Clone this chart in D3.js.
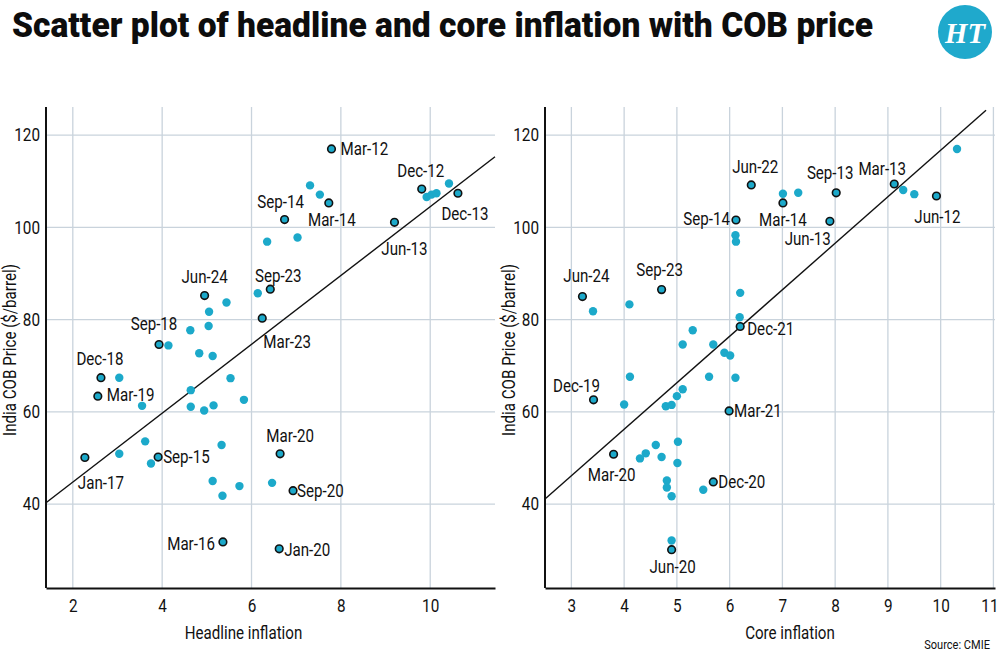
<!DOCTYPE html>
<html>
<head>
<meta charset="utf-8">
<script src="https://cdn.jsdelivr.net/npm/d3@7"></script>
<style>
  body { margin: 0; background: #fff; }
  svg text { font-family: Roboto, "Liberation Sans", sans-serif; }
</style>
</head>
<body>
<svg id="chart" width="1000" height="657"></svg>
<script>
// ---- data ----
// headline inflation vs COB price
var headlineX = [7.79, 9.81, 9.20, 10.62, 7.73, 6.74, 3.91, 5.36, 2.27, 3.93, 2.63, 2.56, 6.62, 6.64, 6.93, 6.24, 6.42, 4.95,
  5.44, 5.05, 5.04, 4.63, 4.14, 4.83, 5.13, 5.53, 3.04, 4.64, 3.55, 4.64, 4.94, 5.15, 5.83, 3.62, 5.33, 3.04, 3.75, 5.13,
  5.73, 5.35, 6.46, 7.31, 7.53, 6.35, 7.03, 6.14, 9.92, 10.03, 10.14, 10.42];
var headlineCob = [117.0, 108.3, 101.1, 107.4, 105.3, 101.7, 50.2, 31.8, 50.1, 74.6, 67.4, 63.4, 30.3, 50.9, 42.9, 80.3, 86.6, 85.2,
  83.7, 81.7, 78.6, 77.7, 74.4, 72.7, 72.1, 67.3, 67.4, 64.7, 61.3, 61.1, 60.3, 61.4, 62.6, 53.6, 52.8, 50.9, 48.8, 45.0,
  43.9, 41.8, 44.6, 109.1, 107.1, 96.9, 97.8, 85.7, 106.6, 107.1, 107.4, 109.5];
var headlineLabels = ['Mar-12', 'Dec-12', 'Jun-13', 'Dec-13', 'Mar-14', 'Sep-14', 'Sep-15', 'Mar-16', 'Jan-17', 'Sep-18',
  'Dec-18', 'Mar-19', 'Jan-20', 'Mar-20', 'Sep-20', 'Mar-23', 'Sep-23', 'Jun-24'];
var headlineTrend = [[1.4, 40.3], [11.45, 115.3]];

// core inflation vs COB price
var coreX = [9.92, 9.12, 7.90, 8.02, 7.01, 6.12, 3.42, 3.80, 4.90, 5.69, 5.99, 6.20, 6.41, 4.71, 3.21,
  3.41, 4.10, 5.30, 6.11, 6.12, 6.20, 6.19, 7.01, 7.30, 9.29, 9.50, 10.31, 5.11, 5.69, 5.90, 6.01, 4.11, 5.61,
  6.11, 4.00, 4.79, 4.90, 5.00, 5.11, 5.02, 4.60, 4.41, 4.30, 4.71, 5.01, 4.81, 4.81, 4.90, 5.50, 4.90];
var coreCob = [106.8, 109.4, 101.3, 107.5, 105.3, 101.6, 62.6, 50.8, 30.1, 44.8, 60.2, 78.5, 109.2, 86.5, 85.0,
  81.8, 83.3, 77.7, 98.3, 96.9, 85.8, 80.5, 107.3, 107.5, 108.1, 107.2, 117.0, 74.6, 74.6, 72.8, 72.2, 67.6, 67.6,
  67.4, 61.6, 61.2, 61.5, 63.4, 64.9, 53.5, 52.8, 51.0, 49.9, 50.2, 48.9, 45.1, 43.6, 41.7, 43.1, 32.1];
var coreLabels = ['Jun-12', 'Mar-13', 'Jun-13', 'Sep-13', 'Mar-14', 'Sep-14', 'Dec-19', 'Mar-20', 'Jun-20', 'Dec-20',
  'Mar-21', 'Dec-21', 'Jun-22', 'Sep-23', 'Jun-24'];
var coreTrend = [[2.5, 41.1], [10.86, 125.4]];

var yTicks = [40, 60, 80, 100, 120];
var headlineTicks = [2, 4, 6, 8, 10];
var coreTicks = [3, 4, 5, 6, 7, 8, 9, 10, 11];

// ---- label placement (dx, dy, anchor) ----
var headlinePlace = {
  'Mar-12': [9, 6, 'start'], 'Dec-12': [-1, -12, 'middle'], 'Jun-13': [10, 33, 'middle'], 'Dec-13': [7, 27, 'middle'],
  'Mar-14': [3, 23, 'middle'], 'Sep-14': [-4, -12, 'middle'], 'Sep-15': [5, 6, 'start'], 'Mar-16': [-8, 8, 'end'],
  'Jan-17': [-7, 32, 'start'], 'Sep-18': [-5, -15, 'middle'], 'Dec-18': [-1, -13, 'middle'], 'Mar-19': [9, 5, 'start'],
  'Jan-20': [5, 7, 'start'], 'Mar-20': [10, -12, 'middle'], 'Sep-20': [4, 6, 'start'], 'Mar-23': [1, 30, 'start'],
  'Sep-23': [8, -7, 'middle'], 'Jun-24': [0, -13, 'middle']
};
var corePlace = {
  'Jun-12': [1, 27, 'middle'], 'Mar-13': [-12, -9, 'middle'], 'Jun-13': [1, 24, 'end'], 'Sep-13': [-6, -14, 'middle'],
  'Mar-14': [0, 23, 'middle'], 'Sep-14': [-6, 5, 'end'], 'Dec-19': [-17, -8, 'middle'], 'Mar-20': [-2, 27, 'middle'],
  'Jun-20': [1, 23, 'middle'], 'Dec-20': [5, 6, 'start'], 'Mar-21': [5, 6, 'start'], 'Dec-21': [7, 8, 'start'],
  'Jun-22': [4, -12, 'middle'], 'Sep-23': [-2, -14, 'middle'], 'Jun-24': [4, -15, 'middle']
};

var svg = d3.select('#chart');
var cyan = '#1ca9ca';
var grid = '#c9d3dc';

// squeeze text horizontally to mimic the condensed face of the original
function condense(sel, k) {
  sel.each(function () {
    var w = this.getComputedTextLength();
    d3.select(this).attr('textLength', w * k).attr('lengthAdjust', 'spacingAndGlyphs');
  });
}

// title + logo
svg.append('text')
  .attr('x', 12).attr('y', 37)
  .attr('font-size', 35).attr('font-weight', 900)
  .attr('textLength', 861).attr('lengthAdjust', 'spacingAndGlyphs')
  .attr('fill', '#0d0d0d')
  .text('Scatter plot of headline and core inflation with COB price');

svg.append('circle').attr('cx', 965).attr('cy', 32).attr('r', 27).attr('fill', '#1fa9cc');
svg.append('text')
  .attr('x', 965).attr('y', 43)
  .attr('text-anchor', 'middle')
  .attr('font-size', 30).attr('font-style', 'italic').attr('font-weight', 'bold')
  .style('font-family', '"Liberation Serif", "DejaVu Serif", serif')
  .attr('fill', '#fff')
  .attr('textLength', 40).attr('lengthAdjust', 'spacingAndGlyphs')
  .text('HT');

var plotTop = 107, plotBottom = 588;

function panel(opt) {
  var x = d3.scaleLinear().domain(opt.xDomain).range(opt.xRange);
  var y = d3.scaleLinear().domain([21.8, 126.1]).range([plotBottom, plotTop]);
  var g = svg.append('g');

  // gridlines
  g.selectAll('.vg').data(opt.xTicks).enter().append('line')
    .attr('x1', d => x(d)).attr('x2', d => x(d))
    .attr('y1', plotTop).attr('y2', plotBottom)
    .attr('stroke', grid).attr('stroke-width', 1.3);
  g.selectAll('.hg').data(yTicks).enter().append('line')
    .attr('x1', opt.xRange[0]).attr('x2', opt.xRange[1])
    .attr('y1', d => y(d)).attr('y2', d => y(d))
    .attr('stroke', grid).attr('stroke-width', 1.3);

  // axes
  var xa = g.append('g').attr('transform', 'translate(0,' + plotBottom + ')')
    .call(d3.axisBottom(x).tickValues(opt.xTicks).tickSize(0).tickPadding(11).tickFormat(d3.format('d')));
  var ya = g.append('g').attr('transform', 'translate(' + opt.xRange[0] + ',0)')
    .call(d3.axisLeft(y).tickValues(yTicks).tickSize(0).tickPadding(6));
  [xa, ya].forEach(function (a) {
    a.select('.domain').attr('stroke', '#111').attr('stroke-width', 2);
    a.selectAll('text').attr('font-size', 18).attr('fill', '#111')
      .style('font-family', 'Roboto, sans-serif');
    condense(a.selectAll('text'), 0.85);
  });
  ya.select('.domain').attr('d', 'M0,' + plotTop + 'V' + plotBottom);
  // keep the last tick label inside the page
  xa.selectAll('.tick text').filter(d => d === 11).attr('dx', -4);

  var xt = g.append('text')
    .attr('x', (opt.xRange[0] + opt.xRange[1]) / 2 + opt.titleShift).attr('y', 639)
    .attr('text-anchor', 'middle').attr('font-size', 18).attr('fill', '#111')
    .text(opt.xTitle);
  var yt = g.append('text')
    .attr('transform', 'translate(' + (opt.xRange[0] - 30) + ',350) rotate(-90)')
    .attr('text-anchor', 'middle').attr('font-size', 18).attr('fill', '#111')
    .text('India COB Price ($/barrel)');
  condense(xt, 0.84);
  condense(yt, 0.84);

  // trend line
  g.append('line')
    .attr('x1', x(opt.trend[0][0])).attr('y1', y(opt.trend[0][1]))
    .attr('x2', x(opt.trend[1][0])).attr('y2', y(opt.trend[1][1]))
    .attr('stroke', '#111').attr('stroke-width', 1.4);

  var pts = opt.xs.map(function (v, i) {
    return { x: v, y: opt.ys[i], label: opt.labels[i] || '' };
  });

  g.selectAll('.dot').data(pts).enter().append('circle')
    .attr('cx', d => x(d.x)).attr('cy', d => y(d.y))
    .attr('r', d => d.label ? 3.8 : 4.2)
    .attr('fill', cyan)
    .attr('stroke', d => d.label ? '#111' : 'none')
    .attr('stroke-width', 1.6);

  var lbl = g.selectAll('.lbl').data(pts.filter(d => d.label)).enter().append('text')
    .attr('x', d => x(d.x) + opt.place[d.label][0])
    .attr('y', d => y(d.y) + opt.place[d.label][1])
    .attr('text-anchor', d => opt.place[d.label][2])
    .attr('font-size', 18).attr('fill', '#111')
    .text(d => d.label);
  condense(lbl, 0.84);
}

panel({
  xDomain: [1.4, 11.45], xRange: [46, 495], xTicks: headlineTicks,
  xs: headlineX, ys: headlineCob, labels: headlineLabels, place: headlinePlace,
  trend: headlineTrend, xTitle: 'Headline inflation', titleShift: -27
});
panel({
  xDomain: [2.5, 11.03], xRange: [545, 995], xTicks: coreTicks,
  xs: coreX, ys: coreCob, labels: coreLabels, place: corePlace,
  trend: coreTrend, xTitle: 'Core inflation', titleShift: 20
});

var src = svg.append('text')
  .attr('x', 990).attr('y', 649)
  .attr('text-anchor', 'end').attr('font-size', 13).attr('fill', '#111')
  .text('Source: CMIE');
condense(src, 0.85);
</script>
</body>
</html>
